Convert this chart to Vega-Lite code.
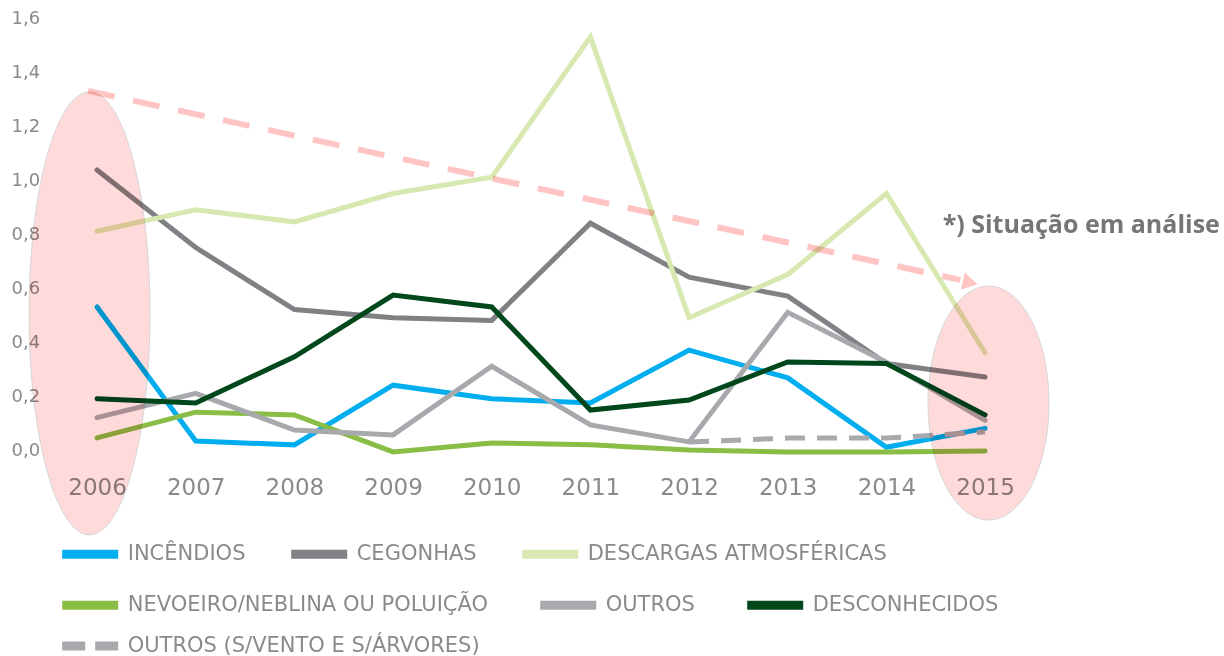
{
  "$schema": "https://vega.github.io/schema/vega-lite/v6.json",
  "width": 986.7,
  "height": 432,
  "autosize": {"type": "none"},
  "padding": {"left": 47.7, "top": 18, "right": 189.6, "bottom": 206},
  "config": {"view": {"stroke": null}, "font": "DejaVu Sans"},
  "datasets": {
    "series": [
      {"serie": "INCÊNDIOS", "year": 2006, "value": 0.53},
      {"serie": "INCÊNDIOS", "year": 2007, "value": 0.033},
      {"serie": "INCÊNDIOS", "year": 2008, "value": 0.019},
      {"serie": "INCÊNDIOS", "year": 2009, "value": 0.24},
      {"serie": "INCÊNDIOS", "year": 2010, "value": 0.19},
      {"serie": "INCÊNDIOS", "year": 2011, "value": 0.174},
      {"serie": "INCÊNDIOS", "year": 2012, "value": 0.37},
      {"serie": "INCÊNDIOS", "year": 2013, "value": 0.267},
      {"serie": "INCÊNDIOS", "year": 2014, "value": 0.01},
      {"serie": "INCÊNDIOS", "year": 2015, "value": 0.08},
      {"serie": "CEGONHAS", "year": 2006, "value": 1.037},
      {"serie": "CEGONHAS", "year": 2007, "value": 0.75},
      {"serie": "CEGONHAS", "year": 2008, "value": 0.52},
      {"serie": "CEGONHAS", "year": 2009, "value": 0.49},
      {"serie": "CEGONHAS", "year": 2010, "value": 0.48},
      {"serie": "CEGONHAS", "year": 2011, "value": 0.84},
      {"serie": "CEGONHAS", "year": 2012, "value": 0.64},
      {"serie": "CEGONHAS", "year": 2013, "value": 0.57},
      {"serie": "CEGONHAS", "year": 2014, "value": 0.32},
      {"serie": "CEGONHAS", "year": 2015, "value": 0.27},
      {"serie": "DESCARGAS ATMOSFÉRICAS", "year": 2006, "value": 0.81},
      {"serie": "DESCARGAS ATMOSFÉRICAS", "year": 2007, "value": 0.89},
      {"serie": "DESCARGAS ATMOSFÉRICAS", "year": 2008, "value": 0.845},
      {"serie": "DESCARGAS ATMOSFÉRICAS", "year": 2009, "value": 0.95},
      {"serie": "DESCARGAS ATMOSFÉRICAS", "year": 2010, "value": 1.01},
      {"serie": "DESCARGAS ATMOSFÉRICAS", "year": 2011, "value": 1.53},
      {"serie": "DESCARGAS ATMOSFÉRICAS", "year": 2012, "value": 0.49},
      {"serie": "DESCARGAS ATMOSFÉRICAS", "year": 2013, "value": 0.65},
      {"serie": "DESCARGAS ATMOSFÉRICAS", "year": 2014, "value": 0.95},
      {"serie": "DESCARGAS ATMOSFÉRICAS", "year": 2015, "value": 0.36},
      {"serie": "NEVOEIRO/NEBLINA OU POLUIÇÃO", "year": 2006, "value": 0.045},
      {"serie": "NEVOEIRO/NEBLINA OU POLUIÇÃO", "year": 2007, "value": 0.14},
      {"serie": "NEVOEIRO/NEBLINA OU POLUIÇÃO", "year": 2008, "value": 0.13},
      {"serie": "NEVOEIRO/NEBLINA OU POLUIÇÃO", "year": 2009, "value": -0.007},
      {"serie": "NEVOEIRO/NEBLINA OU POLUIÇÃO", "year": 2010, "value": 0.026},
      {"serie": "NEVOEIRO/NEBLINA OU POLUIÇÃO", "year": 2011, "value": 0.019},
      {"serie": "NEVOEIRO/NEBLINA OU POLUIÇÃO", "year": 2012, "value": 0.0},
      {"serie": "NEVOEIRO/NEBLINA OU POLUIÇÃO", "year": 2013, "value": -0.007},
      {"serie": "NEVOEIRO/NEBLINA OU POLUIÇÃO", "year": 2014, "value": -0.007},
      {"serie": "NEVOEIRO/NEBLINA OU POLUIÇÃO", "year": 2015, "value": -0.004},
      {"serie": "OUTROS", "year": 2006, "value": 0.12},
      {"serie": "OUTROS", "year": 2007, "value": 0.21},
      {"serie": "OUTROS", "year": 2008, "value": 0.074},
      {"serie": "OUTROS", "year": 2009, "value": 0.056},
      {"serie": "OUTROS", "year": 2010, "value": 0.31},
      {"serie": "OUTROS", "year": 2011, "value": 0.093},
      {"serie": "OUTROS", "year": 2012, "value": 0.03},
      {"serie": "OUTROS", "year": 2013, "value": 0.51},
      {"serie": "OUTROS", "year": 2014, "value": 0.325},
      {"serie": "OUTROS", "year": 2015, "value": 0.11},
      {"serie": "DESCONHECIDOS", "year": 2006, "value": 0.19},
      {"serie": "DESCONHECIDOS", "year": 2007, "value": 0.174},
      {"serie": "DESCONHECIDOS", "year": 2008, "value": 0.345},
      {"serie": "DESCONHECIDOS", "year": 2009, "value": 0.574},
      {"serie": "DESCONHECIDOS", "year": 2010, "value": 0.53},
      {"serie": "DESCONHECIDOS", "year": 2011, "value": 0.148},
      {"serie": "DESCONHECIDOS", "year": 2012, "value": 0.185},
      {"serie": "DESCONHECIDOS", "year": 2013, "value": 0.326},
      {"serie": "DESCONHECIDOS", "year": 2014, "value": 0.32},
      {"serie": "DESCONHECIDOS", "year": 2015, "value": 0.13},
      {"serie": "OUTROS (S/VENTO E S/ÁRVORES)", "year": 2012, "value": 0.03},
      {"serie": "OUTROS (S/VENTO E S/ÁRVORES)", "year": 2013, "value": 0.044},
      {"serie": "OUTROS (S/VENTO E S/ÁRVORES)", "year": 2014, "value": 0.044},
      {"serie": "OUTROS (S/VENTO E S/ÁRVORES)", "year": 2015, "value": 0.067}
    ],
    "tendencia": [
      {"year": 2005.91, "value": 1.33},
      {"year": 2014.75, "value": 0.63}
    ],
    "seta": [
      {"year": 2014.85, "value": 0.62}
    ],
    "destaques": [
      {"ano": "2006", "year": 2005.924, "value": 0.506},
      {"ano": "2015", "year": 2015.035, "value": 0.174}
    ],
    "anotacao": [
      {"year": 2014.57, "value": 0.833, "texto": "*) Situação em análise"}
    ]
  },
  "encoding": {
    "x": {
      "field": "year",
      "type": "quantitative",
      "scale": {"domain": [2005.5, 2015.5], "nice": false, "zero": false},
      "axis": {
        "values": [2006, 2007, 2008, 2009, 2010, 2011, 2012, 2013, 2014, 2015],
        "format": "d",
        "title": null,
        "domain": false,
        "ticks": false,
        "tickSize": 0,
        "grid": false,
        "labelFont": "DejaVu Sans",
        "labelFontSize": 23,
        "labelColor": "#8a8a8a",
        "labelPadding": 26,
        "labelFlush": false
      }
    },
    "y": {
      "field": "value",
      "type": "quantitative",
      "scale": {"domain": [0, 1.6], "nice": false, "zero": false},
      "axis": {
        "values": [0, 0.2, 0.4, 0.6, 0.8, 1.0, 1.2, 1.4, 1.6],
        "labelExpr": "replace(format(datum.value, '.1f'), '.', ',')",
        "title": null,
        "domain": false,
        "ticks": false,
        "tickSize": 0,
        "grid": false,
        "labelFont": "DejaVu Sans",
        "labelFontSize": 18,
        "labelColor": "#8a8a8a",
        "labelPadding": 8
      }
    }
  },
  "layer": [
    {
      "data": {"name": "series"},
      "transform": [{"filter": {"field": "serie", "oneOf": ["INCÊNDIOS", "CEGONHAS", "DESCARGAS ATMOSFÉRICAS"]}}],
      "mark": {"type": "line", "strokeWidth": 5, "strokeCap": "round", "clip": false},
      "encoding": {
        "color": {
          "field": "serie",
          "type": "nominal",
          "scale": {"domain": ["INCÊNDIOS", "CEGONHAS", "DESCARGAS ATMOSFÉRICAS"], "range": ["#00AEEF", "#808184", "#D8E8B1"]},
          "legend": {
            "orient": "none", "direction": "horizontal", "columns": 3,
            "legendX": 10, "legendY": 503.5, "title": null, "padding": 0,
            "symbolType": "stroke", "symbolSize": 3136, "symbolStrokeWidth": 9,
            "labelFont": "DejaVu Sans", "labelFontSize": 21, "labelColor": "#8a8a8a",
            "labelOffset": 5, "columnPadding": 27, "labelLimit": 600
          }
        }
      }
    },
    {
      "data": {"name": "series"},
      "transform": [{"filter": {"field": "serie", "oneOf": ["NEVOEIRO/NEBLINA OU POLUIÇÃO", "OUTROS", "DESCONHECIDOS"]}}],
      "mark": {"type": "line", "strokeWidth": 5, "strokeCap": "round", "clip": false},
      "encoding": {
        "color": {
          "field": "serie",
          "type": "nominal",
          "scale": {"domain": ["NEVOEIRO/NEBLINA OU POLUIÇÃO", "OUTROS", "DESCONHECIDOS"], "range": ["#8ABD45", "#A8A9AD", "#00471C"]},
          "legend": {
            "orient": "none", "direction": "horizontal", "columns": 3,
            "legendX": 10, "legendY": 554.5, "title": null, "padding": 0,
            "symbolType": "stroke", "symbolSize": 3136, "symbolStrokeWidth": 9,
            "labelFont": "DejaVu Sans", "labelFontSize": 21, "labelColor": "#8a8a8a",
            "labelOffset": 5, "columnPadding": 33, "labelLimit": 600
          }
        }
      }
    },
    {
      "data": {"name": "series"},
      "transform": [{"filter": {"field": "serie", "oneOf": ["OUTROS (S/VENTO E S/ÁRVORES)"]}}],
      "mark": {"type": "line", "strokeWidth": 5, "strokeDash": [20, 12], "clip": false},
      "encoding": {
        "color": {
          "field": "serie",
          "type": "nominal",
          "scale": {"domain": ["OUTROS (S/VENTO E S/ÁRVORES)"], "range": ["#A8A9AD"]},
          "legend": {
            "orient": "none", "direction": "horizontal",
            "legendX": 10, "legendY": 595.5, "title": null, "padding": 0,
            "symbolType": "stroke", "symbolSize": 3136, "symbolStrokeWidth": 9, "symbolDash": [23, 10],
            "labelFont": "DejaVu Sans", "labelFontSize": 21, "labelColor": "#8a8a8a",
            "labelOffset": 5, "labelLimit": 600
          }
        }
      }
    },
    {
      "data": {"name": "destaques"},
      "transform": [{"filter": "datum.ano == '2006'"}],
      "mark": {
        "type": "point",
        "shape": "M-0.273,0A0.273,1,0,1,0,0.273,0A0.273,1,0,1,0,-0.273,0Z",
        "size": 196249,
        "filled": true,
        "fill": "#FFDADA",
        "stroke": "#d6d6d6",
        "strokeWidth": 1,
        "opacity": 1,
        "blend": "multiply",
        "clip": false
      }
    },
    {
      "data": {"name": "destaques"},
      "transform": [{"filter": "datum.ano == '2015'"}],
      "mark": {
        "type": "point",
        "shape": "M-0.517,0A0.517,1,0,1,0,0.517,0A0.517,1,0,1,0,-0.517,0Z",
        "size": 54756,
        "filled": true,
        "fill": "#FFDADA",
        "stroke": "#d6d6d6",
        "strokeWidth": 1,
        "opacity": 1,
        "blend": "multiply",
        "clip": false
      }
    },
    {
      "data": {"name": "tendencia"},
      "mark": {"type": "line", "color": "#FFC4C4", "strokeWidth": 6, "strokeDash": [27, 19], "blend": "multiply", "clip": false}
    },
    {
      "data": {"name": "seta"},
      "mark": {"type": "point", "shape": "triangle-right", "angle": 12, "size": 300, "filled": true, "color": "#FFC4C4", "opacity": 1, "blend": "multiply", "clip": false}
    },
    {
      "data": {"name": "anotacao"},
      "mark": {"type": "text", "font": "Open Sans", "fontWeight": "bold", "fontSize": 25, "color": "#767676", "align": "left", "baseline": "middle", "clip": false},
      "encoding": {
        "text": {"field": "texto", "type": "nominal"}
      }
    }
  ],
  "resolve": {"scale": {"color": "independent"}}
}
